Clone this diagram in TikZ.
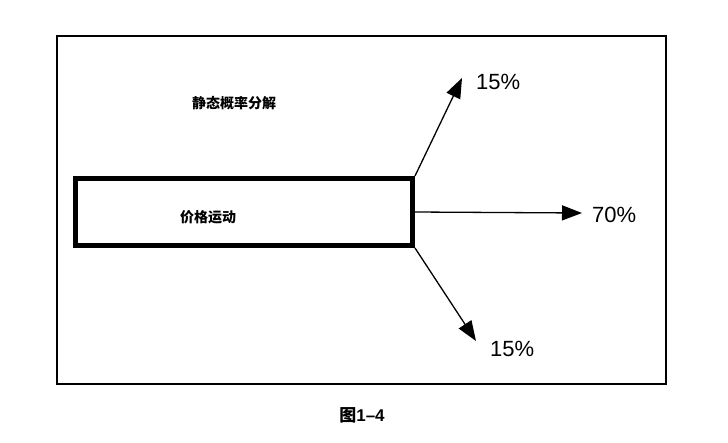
\documentclass[tikz,border=0pt]{standalone}
\usepackage{fontspec}
\setmainfont{Liberation Sans}
\newfontfamily\cjk{Noto Sans CJK SC}
\usepackage{tikz}
\usetikzlibrary{arrows.meta}
\usetikzlibrary{positioning}

\begin{document}
\begin{tikzpicture}[x=1pt,y=-1pt]
		\useasboundingbox (0,0) rectangle (728,442);
		\draw[line width=1.2pt] (57,36) rectangle (666,384);
		\begin{scope}[every node/.style = {font=\cjk\bfseries\fontsize{14}{16}\selectfont}]
			\node (title) at (234,103) {静态概率分解};
			\node[draw, line width=5pt, minimum width=337pt, minimum height=67pt] (move) at (244,212) {};
			\node (movetext) at (208,217) {价格运动};
			\node[font=\cjk\bfseries\fontsize{17}{19}\selectfont] (caption) at (362,415) {图{\rmfamily\bfseries 1\textendash 4}};
		\end{scope}
		\coordinate (upTip) at (462,78);
		\coordinate (midTip) at (582,213);
		\coordinate (lowTip) at (476,341);
		\begin{scope}[every node/.style = {font=\fontsize{22}{24}\selectfont, inner sep=0pt}]
			\node[right=14pt of upTip, yshift=-4pt] (up) {15\%};
			\node[right=10pt of midTip, yshift=-2pt] (mid) {70\%};
			\node[right=14pt of lowTip, yshift=-8pt] (low) {15\%};
		\end{scope}
		\begin{scope}[>={Triangle[black, length=20pt, width=15pt]}, line width=1.3pt]
			\path[->] (move.north east) edge (upTip);
			\path[->] (move.east) edge (midTip);
			\path[->] (move.south east) edge (lowTip);
		\end{scope}
	\end{tikzpicture}
\end{document}
